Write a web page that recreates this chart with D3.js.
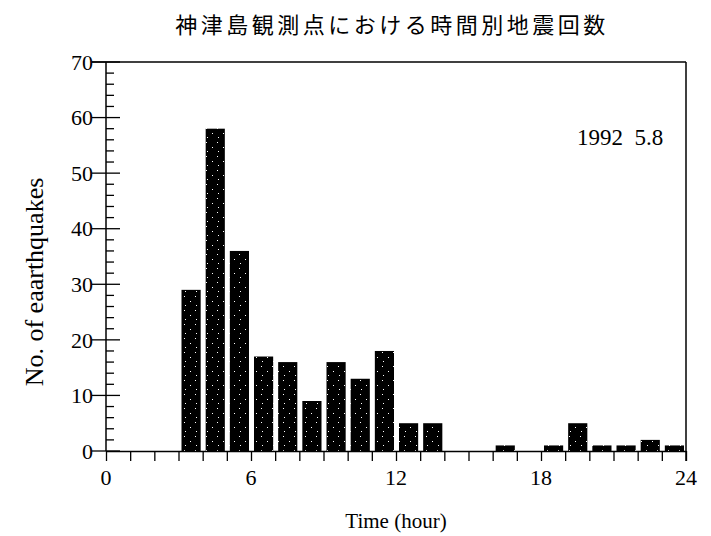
<!DOCTYPE html>
<html>
<head>
<meta charset="utf-8">
<script src="https://cdn.jsdelivr.net/npm/d3@7"></script>
<style>
  body { margin: 0; background: #fff; }
  svg { display: block; }
</style>
</head>
<body>
<svg width="711" height="536"></svg>
<script>
// hourly counts, 0h .. 23h
var hours  = d3.range(0, 24);
var counts = [0, 0, 0, 29, 58, 36, 17, 16, 9, 16, 13, 18, 5, 5, 0, 0, 1, 0, 1, 5, 1, 1, 2, 1];
var xLabels = [0, 6, 12, 18, 24];
var yLabels = [0, 10, 20, 30, 40, 50, 60, 70];

var title  = "神津島観測点における時間別地震回数";
var note   = "1992  5.8";
var xTitle = "Time (hour)";
var yTitle = "No. of eaarthquakes";

var svg = d3.select("svg"),
  width = +svg.attr("width"),
  height = +svg.attr("height");

var serif = "'Liberation Serif', 'DejaVu Serif', serif";

var x = d3.scaleLinear().domain([0, 24]).range([106, 686]);
var y = d3.scaleLinear().domain([0, 70]).range([451, 62]);

// mostly black fill with a few white specks, like the photocopied original
var defs = svg.append("defs");
var pat = defs.append("pattern")
  .attr("id", "speck")
  .attr("patternUnits", "userSpaceOnUse")
  .attr("width", 11).attr("height", 14);
pat.append("rect").attr("width", 11).attr("height", 14).attr("fill", "#000");
[[8, 2], [3, 7], [9, 11]].forEach(function(p) {
  pat.append("rect").attr("x", p[0]).attr("y", p[1])
    .attr("width", 1).attr("height", 1).attr("fill", "#fff");
});

// bars
svg.append("g")
  .selectAll("rect")
  .data(hours.filter(function(h) { return counts[h] > 0; }))
  .enter()
  .append("rect")
    .attr("x", function(h) { return x(h) + 3; })
    .attr("width", function(h) { return x(h + 1) - x(h) - 5; })
    .attr("y", function(h) { return y(counts[h]); })
    .attr("height", function(h) { return y(0) - y(counts[h]); })
    .attr("fill", "url(#speck)");

// frame: top and right edges
svg.append("line")
  .attr("x1", x(0) - 14).attr("x2", x(24))
  .attr("y1", y(70)).attr("y2", y(70))
  .attr("stroke", "#000").attr("stroke-width", 1.5);
svg.append("line")
  .attr("x1", x(24)).attr("x2", x(24))
  .attr("y1", y(70)).attr("y2", y(0) + 10)
  .attr("stroke", "#000").attr("stroke-width", 1.5);

// x axis: tick every hour, pointing down
var xAxis = svg.append("g")
  .attr("transform", "translate(0," + y(0) + ")")
  .call(d3.axisBottom(x).tickValues(d3.range(0, 25)).tickSize(10).tickSizeOuter(0).tickFormat(""));
xAxis.select(".domain").attr("stroke-width", 1.5);
xAxis.selectAll(".tick line").attr("stroke-width", 1.3);

svg.append("g")
  .selectAll("text")
  .data(xLabels)
  .enter()
  .append("text")
    .attr("x", function(d) { return x(d); })
    .attr("y", y(0) + 34)
    .attr("text-anchor", "middle")
    .style("font-family", serif)
    .style("font-size", "22px")
    .text(function(d) { return d; });

// y axis: major ticks across the axis, minor ticks inside every 2
svg.append("line")
  .attr("x1", x(0)).attr("x2", x(0))
  .attr("y1", y(0)).attr("y2", y(70))
  .attr("stroke", "#000").attr("stroke-width", 1.5);

svg.append("g")
  .selectAll("line")
  .data(d3.range(0, 71, 2).filter(function(d) { return d % 10 !== 0; }))
  .enter()
  .append("line")
    .attr("x1", x(0)).attr("x2", x(0) + 8)
    .attr("y1", function(d) { return y(d); })
    .attr("y2", function(d) { return y(d); })
    .attr("stroke", "#000").attr("stroke-width", 1.3);

svg.append("g")
  .selectAll("line")
  .data(yLabels)
  .enter()
  .append("line")
    .attr("x1", x(0) - 14).attr("x2", x(0) + 14)
    .attr("y1", function(d) { return y(d); })
    .attr("y2", function(d) { return y(d); })
    .attr("stroke", "#000").attr("stroke-width", 1.3);

svg.append("g")
  .selectAll("text")
  .data(yLabels)
  .enter()
  .append("text")
    .attr("x", x(0) - 13)
    .attr("y", function(d) { return y(d); })
    .attr("dy", "0.35em")
    .attr("text-anchor", "end")
    .style("font-family", serif)
    .style("font-size", "22px")
    .text(function(d) { return d; });

// texts
svg.append("text")
  .attr("x", 392).attr("y", 33)
  .attr("text-anchor", "middle")
  .style("font-family", "'Noto Sans CJK JP', sans-serif")
  .style("font-size", "22px")
  .style("letter-spacing", "3.5px")
  .text(title);

svg.append("text")
  .attr("x", 620).attr("y", 145)
  .attr("text-anchor", "middle")
  .style("font-family", serif)
  .style("font-size", "23px")
  .style("white-space", "pre")
  .text(note);

svg.append("text")
  .attr("x", 396).attr("y", 528)
  .attr("text-anchor", "middle")
  .style("font-family", serif)
  .style("font-size", "21px")
  .text(xTitle);

svg.append("text")
  .attr("transform", "translate(43," + 282 + ") rotate(-90)")
  .attr("text-anchor", "middle")
  .style("font-family", serif)
  .style("font-size", "26px")
  .text(yTitle);
</script>
</body>
</html>
